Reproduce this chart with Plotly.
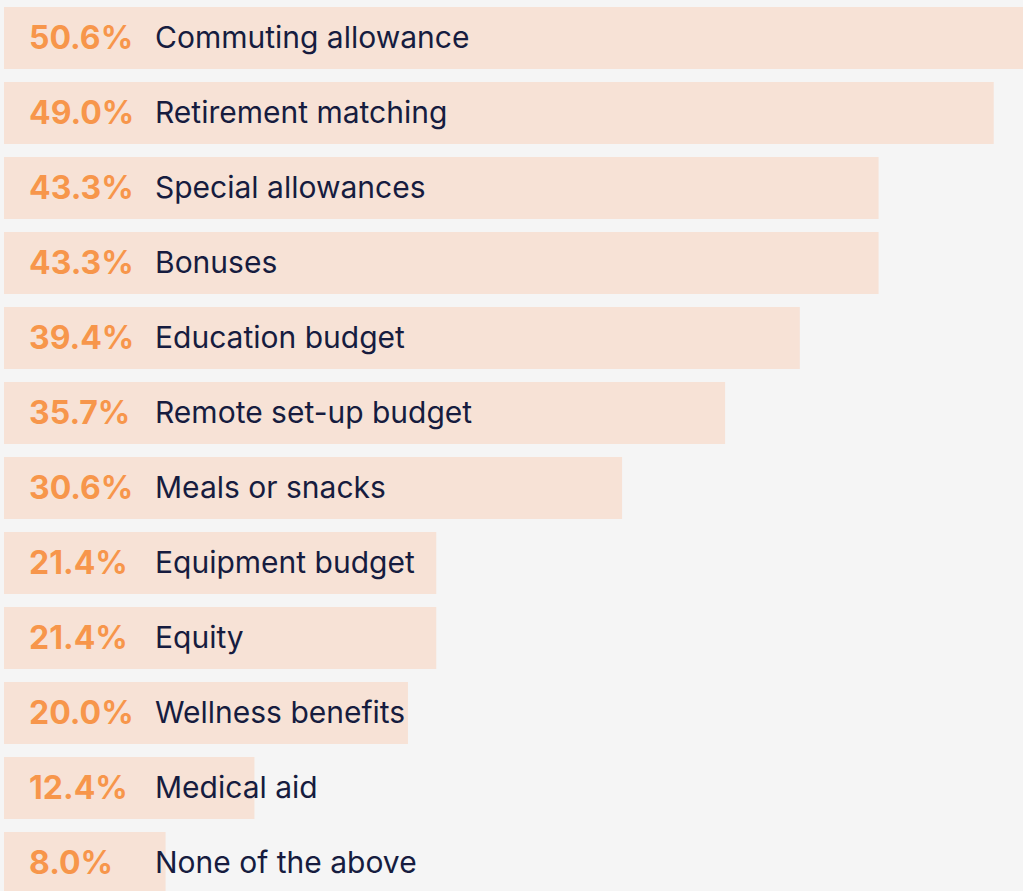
import plotly.graph_objects as go

# Share of respondents offering each benefit (%)
benefits = [
    "Commuting allowance",
    "Retirement matching",
    "Special allowances",
    "Bonuses",
    "Education budget",
    "Remote set-up budget",
    "Meals or snacks",
    "Equipment budget",
    "Equity",
    "Wellness benefits",
    "Medical aid",
    "None of the above",
]
shares = [50.6, 49.0, 43.3, 43.3, 39.4, 35.7, 30.6, 21.4, 21.4, 20.0, 12.4, 8.0]

BG = "#f5f5f5"
BAR = "#f7e2d6"
ORANGE = "#f7964b"
NAVY = "#161c3f"
FONT = "Inter"

rows = list(range(len(benefits)))

fig = go.Figure(
    go.Bar(
        x=shares,
        y=rows,
        orientation="h",
        marker=dict(color=BAR, line=dict(width=0)),
        hoverinfo="skip",
    )
)

annotations = []
for i, (name, val) in enumerate(zip(benefits, shares)):
    annotations.append(dict(
        xref="paper", yref="y", x=0, y=i, xanchor="left", yanchor="middle",
        xshift=23, yshift=1, text=f"<b>{val:.1f}%</b>", showarrow=False,
        font=dict(family=FONT, size=32, color=ORANGE),
    ))
    annotations.append(dict(
        xref="paper", yref="y", x=0, y=i, xanchor="left", yanchor="middle",
        xshift=149, yshift=1, text=name, showarrow=False,
        font=dict(family=FONT, size=30, color=NAVY),
    ))

fig.update_layout(
    width=1023,
    height=891,
    margin=dict(l=4, r=0, t=0, b=0),
    paper_bgcolor=BG,
    plot_bgcolor=BG,
    bargap=0.173,
    showlegend=False,
    annotations=annotations,
    xaxis=dict(range=[0, 50.45], visible=False, fixedrange=True),
    yaxis=dict(range=[11.373, -0.5067], visible=False, fixedrange=True),
)

fig.write_html("out.html", config={"displayModeBar": False})
